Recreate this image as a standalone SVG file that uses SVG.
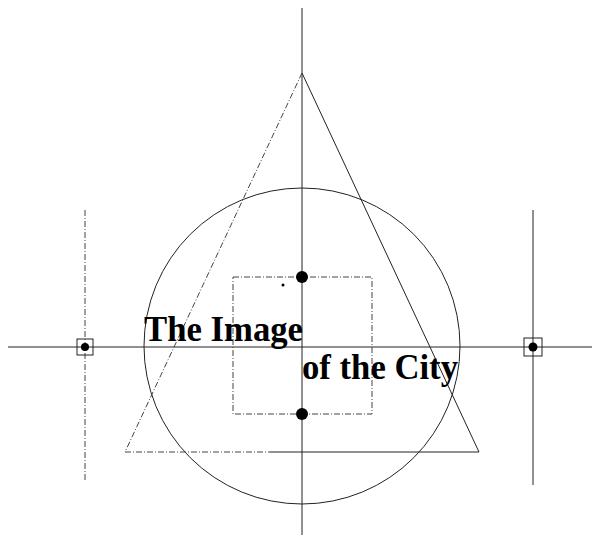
<svg xmlns="http://www.w3.org/2000/svg" width="595" height="548" viewBox="0 0 595 548">
<style>
.ln{stroke:#222;stroke-width:1;fill:none}
.dl{stroke:#444;stroke-width:1;fill:none;stroke-dasharray:6 2 1 2}
.dot{fill:#000}
.t{font-family:"Liberation Serif","Times New Roman",serif;font-weight:bold;font-size:36px;fill:#000}
</style>
<rect width="595" height="548" fill="#fff"/>
<g id="axes">
<line class="ln" x1="302" y1="8" x2="302" y2="535"/>
<line class="ln" x1="8" y1="347" x2="592" y2="347"/>
</g>
<g id="circle"><circle class="ln" cx="302" cy="346" r="158"/></g>
<g id="triangle">
<line class="ln" x1="302" y1="73" x2="479" y2="452"/>
<line class="dl" x1="302" y1="73" x2="125" y2="452"/>
<line class="dl" x1="125" y1="452" x2="270" y2="452"/>
<line class="ln" x1="270" y1="452" x2="479" y2="452"/>
</g>
<g id="square"><rect class="dl" x="233" y="277" width="139" height="137"/></g>
<g id="dots">
<circle class="dot" cx="302" cy="277" r="6"/>
<circle class="dot" cx="302" cy="414" r="6"/>
<circle class="dot" cx="283" cy="285" r="1.5"/>
</g>
<g id="left-marker">
<line class="dl" x1="85" y1="210" x2="85" y2="480"/>
<rect class="ln" x="77" y="339" width="16" height="16"/>
<circle class="dot" cx="85" cy="347" r="4"/>
</g>
<g id="right-marker">
<line class="ln" x1="533" y1="210" x2="533" y2="485"/>
<rect class="ln" x="524" y="338" width="18" height="18"/>
<circle class="dot" cx="533" cy="347" r="4.5"/>
</g>
<g id="title">
<text class="t" x="144" y="341" textLength="159" lengthAdjust="spacingAndGlyphs">The Image</text>
<text class="t" x="302" y="379" textLength="156" lengthAdjust="spacingAndGlyphs">of the City</text>
</g>
</svg>
